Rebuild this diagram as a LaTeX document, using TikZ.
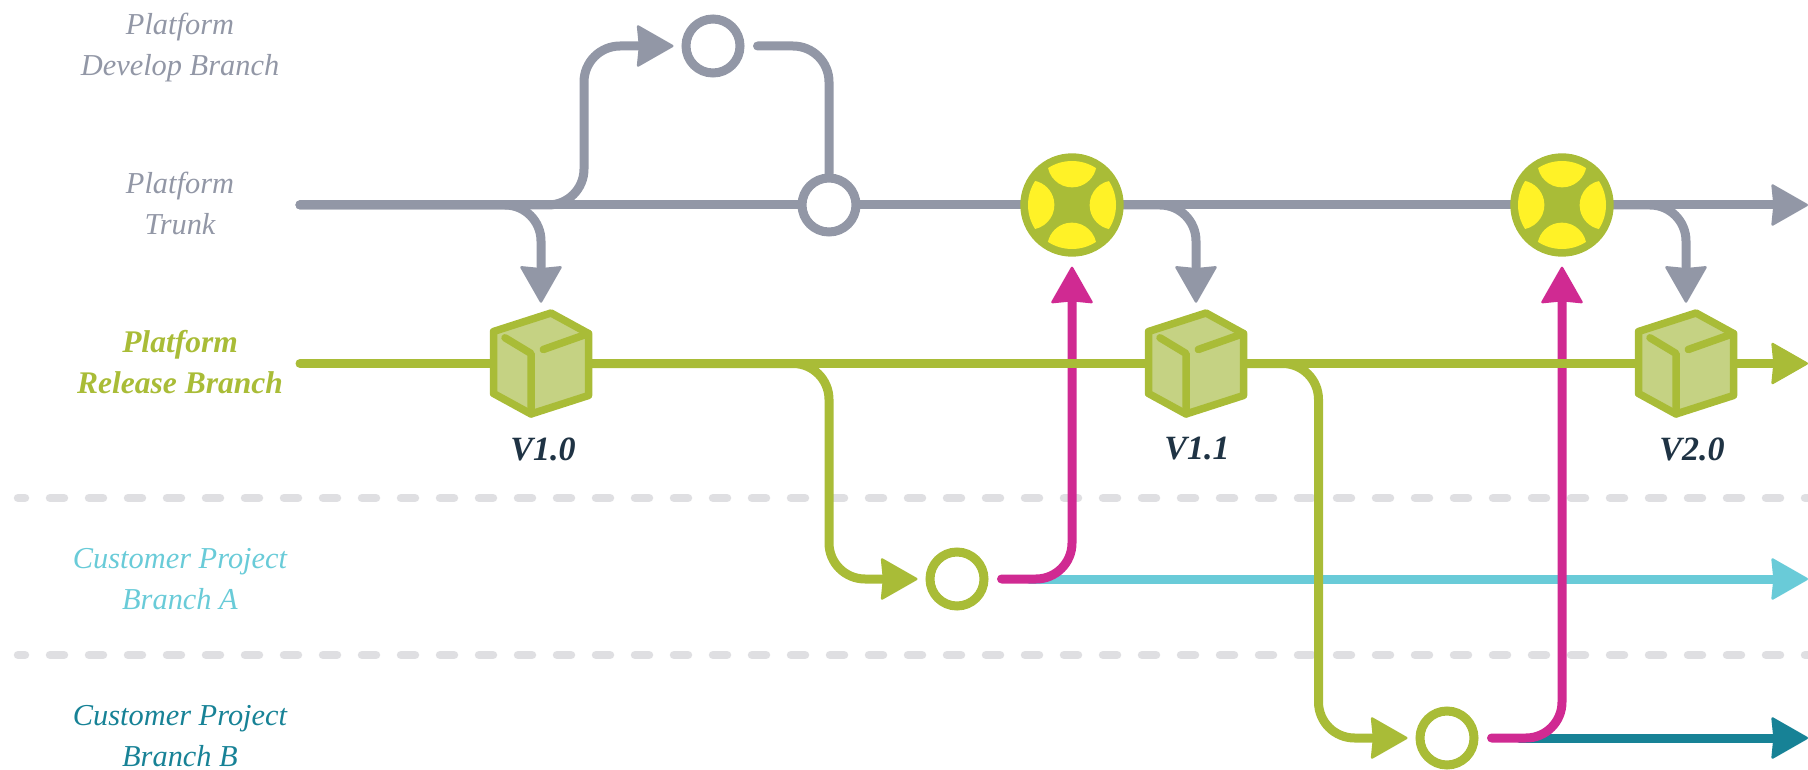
\documentclass[tikz,border=0pt]{standalone}
\usepackage{fontspec}
\setmainfont{Liberation Serif}
\usetikzlibrary{arrows.meta,backgrounds}
\definecolor{trunkgrey}{HTML}{9297A6}
\definecolor{relgreen}{HTML}{A9BC37}
\definecolor{cubefill}{HTML}{C5D283}
\definecolor{mergepink}{HTML}{D02A92}
\definecolor{custcyan}{HTML}{69CBD8}
\definecolor{custteal}{HTML}{178296}
\definecolor{petalyellow}{HTML}{FFF227}
\definecolor{dashgrey}{HTML}{DFDFE2}
\definecolor{versionnavy}{HTML}{1F3344}
\tikzset{
  branch/.style={line width=9pt,line cap=round,rounded corners=36pt},
  tipped/.style={-{Stealth[length=38pt,width=43pt,inset=2pt,line width=2.5pt,round]}},
  ring/.style={circle,draw=#1,line width=9pt,fill=white,minimum size=54pt,inner sep=0pt},
  merged/.style={circle,fill=relgreen,minimum size=103.4pt,inner sep=0pt,outer sep=0pt},
  cubebox/.style={rectangle,minimum width=101.5pt,minimum height=107.5pt,inner sep=0pt,outer sep=0pt},
  lane/.style={font=\fontsize{30.4}{41}\selectfont\itshape,align=center,inner sep=0pt},
  lanebold/.style={font=\fontsize{31.5}{41}\selectfont\bfseries\itshape,align=center,inner sep=0pt},
  version/.style={font=\fontsize{34}{41}\selectfont\bfseries\itshape,text=versionnavy,inner sep=0pt},
  lanerule/.style={line width=8.5pt,line cap=round,dash pattern=on 14pt off 25pt,dash phase=7pt,dashgrey},
  petals/.pic={
    \foreach \a in {0,90,180,270}
      \fill[petalyellow,rotate=\a] (57:44pt) arc[start angle=57,end angle=123,radius=44pt]
        arc[start angle=192.5,end angle=347.5,radius=24.6pt] -- cycle;
  },
  cubeicon/.pic={
    \filldraw[relgreen,fill=cubefill,line width=7.5pt,line join=round]
      (-47.5pt,32pt) -- (10pt,50.5pt) -- (47.5pt,30pt) -- (47.5pt,-32pt) -- (-10pt,-50.5pt) -- (-47.5pt,-30pt) -- cycle;
    \draw[relgreen,line width=7.5pt,line cap=round,line join=round]
      (-36pt,25.7pt) -- (-10pt,10pt) -- (-10pt,-50.5pt);
    \draw[relgreen,line width=7.5pt,line cap=round] (2.3pt,14pt) -- (47.5pt,30pt);
  },
}
\begin{document}
\begin{tikzpicture}[x=1pt,y=-1pt]
  \useasboundingbox (0,0) rectangle (1808,770);

  % lane labels
  \node[lane,text=trunkgrey] (lblDevelop) at (180,48) {Platform\\Develop Branch};
  \node[lane,text=trunkgrey] (lblTrunk) at (180,203) {Platform\\Trunk};
  \node[lanebold,text=relgreen] (lblRelease) at (180,362) {Platform\\Release Branch};
  \node[lane,text=custcyan] (lblCustA) at (180,579) {Customer Project\\Branch A};
  \node[lane,text=custteal] (lblCustB) at (180,736) {Customer Project\\Branch B};

  % commits
  \node[ring=trunkgrey] (devCommit) at (713,46) {};
  \node[ring=trunkgrey] (trunkCommit) at (829,205) {};
  \node[ring=relgreen] (custACommit) at (957,579) {};
  \node[ring=relgreen] (custBCommit) at (1447,738) {};

  % merges
  \node[merged] (merge1) at (1072,205) {};
  \node[merged] (merge2) at (1562,205) {};
  \pic at (merge1) {petals};
  \pic at (merge2) {petals};

  % releases
  \node[cubebox] (cube1) at (541,363.5) {};
  \node[cubebox] (cube2) at (1196,363.5) {};
  \node[cubebox] (cube3) at (1686,363.5) {};
  \pic at (cube1) {cubeicon};
  \pic at (cube2) {cubeicon};
  \pic at (cube3) {cubeicon};
  \node[version] (v10) at (543,449) {V1.0};
  \node[version] (v11) at (1197,449) {V1.1};
  \node[version] (v20) at (1692,449) {V2.0};

  % free ends
  \coordinate (trunkStart) at (300,205);
  \coordinate (trunkEnd) at (1808,205);
  \coordinate (relStart) at (300,363.5);
  \coordinate (relEnd) at (1808,363.5);
  \coordinate (custAEnd) at (1808,579);
  \coordinate (custBEnd) at (1808,738);
  \coordinate (devCorner) at (584,46);
  \coordinate (dropA) at (829,363.5);
  \coordinate (dropB) at (1318.5,363.5);

  \begin{scope}[on background layer]
    % dashed separators
    \draw[lanerule] (18,498) -- (1808,498);
    \draw[lanerule] (18,655) -- (1808,655);

    % customer lines, under the merge lines
    \draw[branch,custcyan,tipped,shorten <=41pt] (custACommit.east) -- (custAEnd);
    \draw[branch,custteal,tipped,shorten <=41pt] (custBCommit.east) -- (custBEnd);

    % merge lines
    \draw[branch,mergepink,tipped,shorten <=13pt,shorten >=10pt] (custACommit.east) -| (merge1.south);
    \draw[branch,mergepink,tipped,shorten <=13pt,shorten >=10pt] (custBCommit.east) -| (merge2.south);

    % trunk
    \draw[branch,trunkgrey] (trunkStart) -- (trunkCommit.west);
    \draw[branch,trunkgrey] (trunkCommit.east) -- (merge1.west);
    \draw[branch,trunkgrey] (merge1.east) -- (merge2.west);
    \draw[branch,trunkgrey,tipped] (merge2.east) -- (trunkEnd);
    \draw[branch,trunkgrey,tipped,shorten >=8pt] (trunkStart) -| (devCorner) -- (devCommit.west);
    \draw[branch,trunkgrey,shorten <=13pt] (devCommit.east) -| (trunkCommit.north);
    \draw[branch,trunkgrey,tipped,shorten >=7pt] (trunkStart) -| (cube1.north);
    \draw[branch,trunkgrey,tipped,shorten >=7pt] (merge1.east) -| (cube2.north);
    \draw[branch,trunkgrey,tipped,shorten >=7pt] (merge2.east) -| (cube3.north);

    % release line
    \draw[branch,relgreen] (relStart) -- (cube1.west);
    \draw[branch,relgreen] (cube1.east) -- (cube2.west);
    \draw[branch,relgreen] (cube2.east) -- (cube3.west);
    \draw[branch,relgreen,tipped] (cube3.east) -- (relEnd);
    \draw[branch,relgreen,tipped,shorten >=8pt] (cube1.east) -- (dropA) |- (custACommit.west);
    \draw[branch,relgreen,tipped,shorten >=8pt] (cube2.east) -- (dropB) |- (custBCommit.west);
  \end{scope}
\end{tikzpicture}
\end{document}
